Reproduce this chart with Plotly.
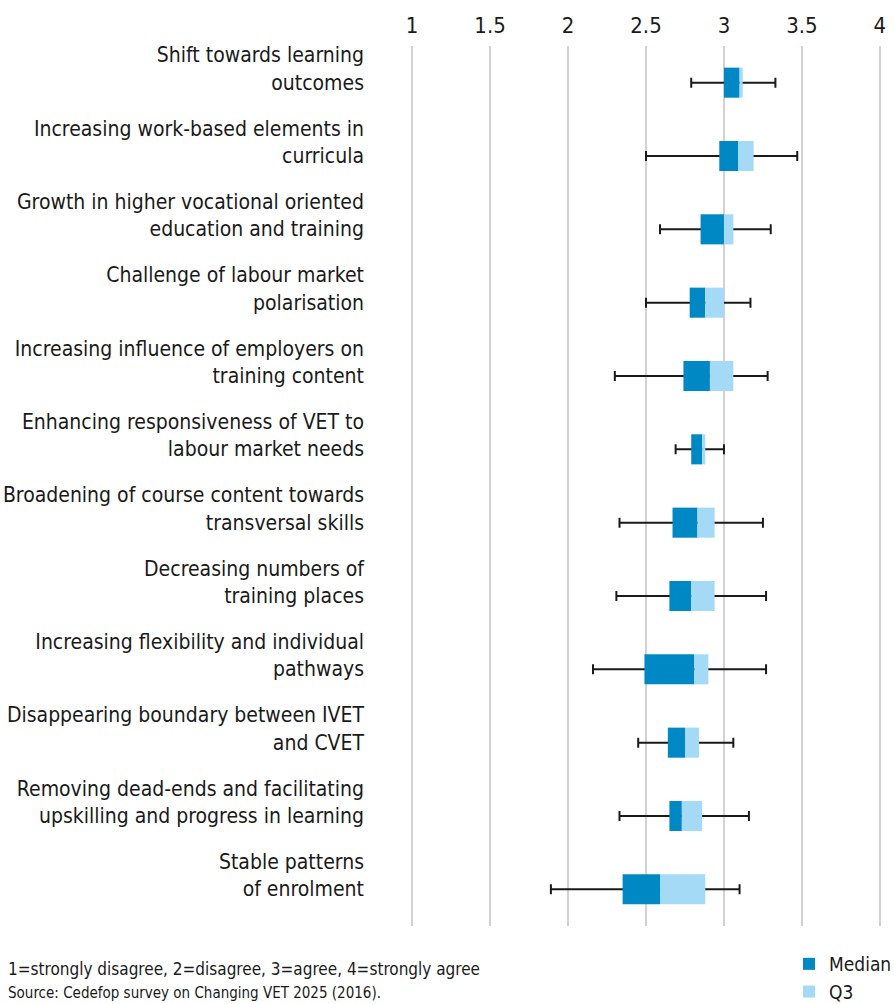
import plotly.graph_objects as go

# Survey statements (top to bottom)
categories = [
    "Shift towards learning<br>outcomes",
    "Increasing work-based elements in<br>curricula",
    "Growth in higher vocational oriented<br>education and training",
    "Challenge of labour market<br>polarisation",
    "Increasing influence of employers on<br>training content",
    "Enhancing responsiveness of VET to<br>labour market needs",
    "Broadening of course content towards<br>transversal skills",
    "Decreasing numbers of<br>training places",
    "Increasing flexibility and individual<br>pathways",
    "Disappearing boundary between IVET<br>and CVET",
    "Removing dead-ends and facilitating<br>upskilling and progress in learning",
    "Stable patterns<br>of enrolment",
]

# Distribution of agreement scores per statement
minimum = [2.79, 2.50, 2.59, 2.50, 2.30, 2.69, 2.33, 2.31, 2.16, 2.45, 2.33, 1.89]
q1 = [3.00, 2.97, 2.85, 2.78, 2.74, 2.79, 2.67, 2.65, 2.49, 2.64, 2.65, 2.35]
median = [3.10, 3.09, 3.00, 2.88, 2.91, 2.86, 2.83, 2.79, 2.81, 2.75, 2.73, 2.59]
q3 = [3.12, 3.19, 3.06, 3.00, 3.06, 2.88, 2.94, 2.94, 2.90, 2.84, 2.86, 2.88]
maximum = [3.33, 3.47, 3.30, 3.17, 3.28, 3.00, 3.25, 3.27, 3.27, 3.06, 3.16, 3.10]

tick_values = [1, 1.5, 2, 2.5, 3, 3.5, 4]
tick_text = ["1", "1.5", "2", "2.5", "3", "3.5", "4"]

FONT = "DejaVu Sans Condensed, Liberation Sans Narrow, Arial Narrow, sans-serif"
DARK = "#0088C4"
LIGHT = "#A4DAF6"

W, H = 894, 1004
ML, MR, MT, MB = 409, 11, 46, 78
PW, PH = W - ML - MR, H - MT - MB

fig = go.Figure()

# Whiskers: zero-length bars carrying an error bar from min to max,
# drawn first so the boxes sit on top of the line
fig.add_trace(go.Bar(
    y=categories,
    base=minimum,
    x=[0] * len(categories),
    orientation="h",
    marker=dict(color="rgba(0,0,0,0)", line=dict(width=0)),
    error_x=dict(
        type="data",
        symmetric=False,
        array=[mx - mn for mx, mn in zip(maximum, minimum)],
        arrayminus=[0] * len(categories),
        color="#1a1a1a",
        thickness=2,
        width=5,
    ),
    showlegend=False,
    hoverinfo="skip",
))

# Q1 -> median
fig.add_trace(go.Bar(
    y=categories,
    base=q1,
    x=[m - a for m, a in zip(median, q1)],
    orientation="h",
    name="Median",
    marker=dict(color=DARK, line=dict(width=0)),
))

# median -> Q3
fig.add_trace(go.Bar(
    y=categories,
    base=median,
    x=[b - m for b, m in zip(q3, median)],
    orientation="h",
    name="Q3",
    marker=dict(color=LIGHT, line=dict(width=0)),
))

fig.update_layout(
    width=W,
    height=H,
    margin=dict(l=ML, r=MR, t=MT, b=MB, autoexpand=False),
    paper_bgcolor="white",
    plot_bgcolor="white",
    barmode="overlay",
    bargap=0.59,
    font=dict(family=FONT, size=21, color="#1a1a1a"),
    xaxis=dict(
        side="top",
        range=[0.98, 4.02],
        tickvals=tick_values,
        ticktext=tick_text,
        showgrid=True,
        gridcolor="#d2d2d2",
        gridwidth=1.5,
        zeroline=False,
        showline=False,
        ticks="",
        ticklabelstandoff=8,
        tickfont=dict(size=22),
        automargin=False,
    ),
    yaxis=dict(
        categoryorder="array",
        categoryarray=categories,
        autorange="reversed",
        showgrid=False,
        zeroline=False,
        showline=False,
        ticks="",
        ticklabelstandoff=44,
        ticklabelshift=14,
        tickfont=dict(size=21),
        automargin=False,
    ),
    legend=dict(
        x=(789 - ML) / PW,
        y=(MT + PH - 945) / PH,
        xanchor="left",
        yanchor="top",
        orientation="v",
        font=dict(size=19),
        itemwidth=30,
        tracegroupgap=0,
        bgcolor="rgba(0,0,0,0)",
    ),
    annotations=[
        dict(
            text="1=strongly disagree, 2=disagree, 3=agree, 4=strongly agree",
            xref="paper", yref="paper",
            x=(6 - ML) / PW, y=(MT + PH - 969) / PH,
            xanchor="left", yanchor="middle",
            showarrow=False,
            font=dict(size=17),
        ),
        dict(
            text="Source: Cedefop survey on Changing VET 2025 (2016).",
            xref="paper", yref="paper",
            x=(6 - ML) / PW, y=(MT + PH - 993) / PH,
            xanchor="left", yanchor="middle",
            showarrow=False,
            font=dict(size=15),
        ),
    ],
)

fig.write_html("out.html")
